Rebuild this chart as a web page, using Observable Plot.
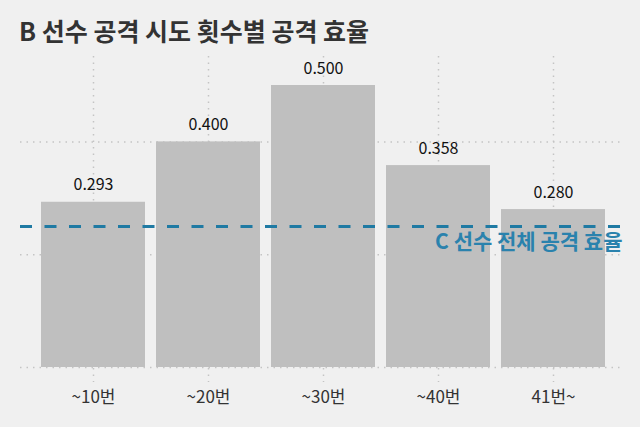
<!DOCTYPE html>
<html><head><meta charset="utf-8">
<script src="https://cdn.jsdelivr.net/npm/d3@7"></script>
<script src="https://cdn.jsdelivr.net/npm/@observablehq/plot@0.6"></script>
<style>
html,body{margin:0;padding:0;background:#f0f0f0;}
#title{height:50px;box-sizing:border-box;padding:15px 0 0 19px;font-family:"Noto Sans CJK KR","Noto Sans",sans-serif;font-weight:700;font-size:25px;line-height:30px;color:#333;}
svg{display:block;}
</style></head>
<body>
<div id="title">B 선수 공격 시도 횟수별 공격 효율</div>
<div id="chart"></div>
<script>
const categories = ["~10번", "~20번", "~30번", "~40번", "41번~"];
const values = [0.293, 0.400, 0.500, 0.358, 0.280];
const gridTicks = [0, 0.2, 0.4];
const cAverage = 0.25;
const cLabel = "C 선수 전체 공격 효율";

const data = categories.map((c, i) => ({c, v: values[i]}));
const font = '"Noto Sans CJK KR","Noto Sans",sans-serif';

const chart = Plot.plot({
  width: 640,
  height: 377,
  marginLeft: 20,
  marginRight: 20,
  marginTop: 6,
  marginBottom: 45,
  style: {background: "#f0f0f0", fontFamily: font},
  x: {domain: categories, range: [27.5, 617], padding: 0.1, axis: null},
  y: {domain: [0, 0.5], range: [317, 35], axis: null},
  marks: [
    Plot.ruleX(categories, {x: d => d, stroke: "#c4c4c4", strokeDasharray: "1.5,5", strokeWidth: 1.5}),
    Plot.ruleY(gridTicks, {stroke: "#c4c4c4", strokeDasharray: "1.5,5", strokeWidth: 1.5}),
    Plot.barY(data, {x: "c", y: "v", fill: "#bfbfbf"}),
    Plot.text(data, {x: "c", y: "v", text: d => d.v.toFixed(3), dy: -17, fontSize: 16, fill: "#111"}),
    Plot.text(categories, {x: d => d, y: () => 0, text: d => d, dy: 30, fontSize: 17, fill: "#333"}),
    Plot.ruleY([cAverage], {stroke: "#1f7aa3", strokeWidth: 3, strokeDasharray: "12,12.5"}),
    Plot.text([cAverage], {y: d => d, frameAnchor: "right", textAnchor: "end", dx: 2, dy: 16, text: () => cLabel, fontSize: 21, fontWeight: 700, fill: "#2a82ad"})
  ]
});
document.getElementById("chart").appendChild(chart);
</script>
</body></html>
